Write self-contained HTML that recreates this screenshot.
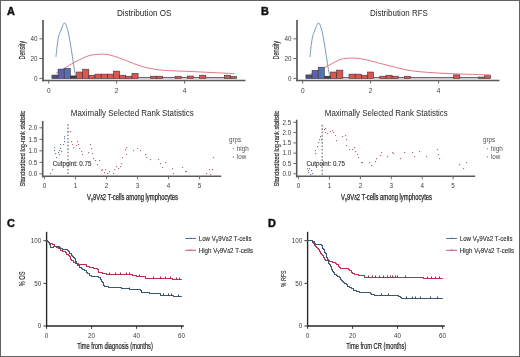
<!DOCTYPE html>
<html><head><meta charset="utf-8"><style>
html,body{margin:0;padding:0;background:#fff;}
#w{position:relative;width:520px;height:357px;overflow:hidden;background:#fff;}
#b{position:absolute;left:0;top:0;width:518px;height:355px;border:1px solid #626262;}
svg{position:absolute;left:0;top:0;will-change:transform;filter:blur(0.3px);}
text{font-family:"Liberation Sans", sans-serif;}
</style></head><body><div id="w"><svg width="520" height="357" viewBox="0 0 520 357">
<text x="7.00" y="14.90" font-size="10.9" fill="#111" text-anchor="start" font-weight="bold" stroke="#111" stroke-width="0.45">A</text>
<text x="261.00" y="15.00" font-size="10.9" fill="#111" text-anchor="start" font-weight="bold" stroke="#111" stroke-width="0.45">B</text>
<text x="7.00" y="226.50" font-size="10.9" fill="#111" text-anchor="start" font-weight="bold" stroke="#111" stroke-width="0.45">C</text>
<text x="268.00" y="226.50" font-size="10.9" fill="#111" text-anchor="start" font-weight="bold" stroke="#111" stroke-width="0.45">D</text>
<text x="116.90" y="15.90" font-size="9" fill="#262626" text-anchor="start" font-weight="normal" textLength="54.50" lengthAdjust="spacingAndGlyphs" >Distribution OS</text>
<path d="M56.00,56.50 C56.20,54.67 56.78,48.75 57.20,45.50 C57.62,42.25 58.03,39.17 58.50,37.00 C58.97,34.83 59.42,34.12 60.00,32.50 C60.58,30.88 61.40,28.78 62.00,27.30 C62.60,25.82 63.18,24.32 63.60,23.60 C64.02,22.88 64.18,22.98 64.50,23.00 C64.82,23.02 65.12,23.03 65.50,23.70 C65.88,24.37 66.33,25.53 66.80,27.00 C67.27,28.47 67.70,29.67 68.30,32.50 C68.90,35.33 69.72,40.00 70.40,44.00 C71.08,48.00 71.73,52.25 72.40,56.50 C73.07,60.75 73.77,65.98 74.40,69.50 C75.03,73.02 75.90,76.25 76.20,77.60" fill="none" stroke="#6a8cb6" stroke-width="0.9" stroke-linecap="round" />
<path d="M56.20,73.20 C56.83,72.80 58.63,71.62 60.00,70.80 C61.37,69.98 62.87,69.20 64.40,68.30 C65.93,67.40 67.60,66.37 69.20,65.40 C70.80,64.43 72.40,63.38 74.00,62.50 C75.60,61.62 77.18,60.90 78.80,60.10 C80.42,59.30 82.08,58.42 83.70,57.70 C85.32,56.98 86.90,56.28 88.50,55.80 C90.10,55.32 91.38,55.07 93.30,54.80 C95.22,54.53 98.22,54.30 100.00,54.20 C101.78,54.10 102.27,54.03 104.00,54.20 C105.73,54.37 108.05,54.65 110.40,55.20 C112.75,55.75 115.53,56.63 118.10,57.50 C120.67,58.37 123.23,59.40 125.80,60.40 C128.37,61.40 130.93,62.53 133.50,63.50 C136.07,64.47 138.65,65.42 141.20,66.20 C143.75,66.98 146.25,67.65 148.80,68.20 C151.35,68.75 153.93,69.15 156.50,69.50 C159.07,69.85 161.12,70.07 164.20,70.30 C167.28,70.53 169.87,70.67 175.00,70.90 C180.13,71.13 188.33,71.40 195.00,71.70 C201.67,72.00 208.50,72.38 215.00,72.70 C221.50,73.02 230.83,73.45 234.00,73.60" fill="none" stroke="#de6a78" stroke-width="0.9" stroke-linecap="round" />
<line x1="51.90" y1="77.80" x2="236.61" y2="77.80" stroke="#4a3040" stroke-width="1.1" />
<rect x="51.90" y="75.10" width="6.16" height="3.30" fill="#465682" stroke="#3b2a35" stroke-width="0.55"/>
<rect x="58.06" y="69.10" width="6.16" height="9.30" fill="#5d62a8" stroke="#3b2a35" stroke-width="0.55"/>
<rect x="64.21" y="68.40" width="6.16" height="10.00" fill="#4f72b8" stroke="#3b2a35" stroke-width="0.55"/>
<rect x="70.37" y="75.90" width="6.16" height="2.50" fill="#3a3a48" stroke="#3b2a35" stroke-width="0.55"/>
<rect x="76.53" y="72.00" width="6.16" height="6.40" fill="#d9574f" stroke="#3b2a35" stroke-width="0.55"/>
<rect x="82.69" y="69.20" width="6.16" height="9.20" fill="#d9574f" stroke="#3b2a35" stroke-width="0.55"/>
<rect x="88.84" y="75.20" width="6.16" height="3.20" fill="#d9574f" stroke="#3b2a35" stroke-width="0.55"/>
<rect x="95.00" y="74.10" width="6.16" height="4.30" fill="#d9574f" stroke="#3b2a35" stroke-width="0.55"/>
<rect x="101.16" y="74.10" width="6.16" height="4.30" fill="#d9574f" stroke="#3b2a35" stroke-width="0.55"/>
<rect x="107.31" y="74.10" width="6.16" height="4.30" fill="#d9574f" stroke="#3b2a35" stroke-width="0.55"/>
<rect x="113.47" y="71.10" width="6.16" height="7.30" fill="#d9574f" stroke="#3b2a35" stroke-width="0.55"/>
<rect x="119.63" y="75.20" width="6.16" height="3.20" fill="#d9574f" stroke="#3b2a35" stroke-width="0.55"/>
<rect x="125.78" y="76.20" width="6.16" height="2.20" fill="#d9574f" stroke="#3b2a35" stroke-width="0.55"/>
<rect x="131.94" y="73.30" width="6.16" height="5.10" fill="#d9574f" stroke="#3b2a35" stroke-width="0.55"/>
<rect x="150.41" y="76.20" width="6.16" height="2.20" fill="#d9574f" stroke="#3b2a35" stroke-width="0.55"/>
<rect x="156.57" y="76.20" width="6.16" height="2.20" fill="#d9574f" stroke="#3b2a35" stroke-width="0.55"/>
<rect x="175.04" y="76.20" width="6.16" height="2.20" fill="#d9574f" stroke="#3b2a35" stroke-width="0.55"/>
<rect x="187.35" y="76.00" width="6.16" height="2.40" fill="#d9574f" stroke="#3b2a35" stroke-width="0.55"/>
<rect x="199.67" y="75.20" width="6.16" height="3.20" fill="#d9574f" stroke="#3b2a35" stroke-width="0.55"/>
<rect x="224.30" y="75.20" width="6.16" height="3.20" fill="#d9574f" stroke="#3b2a35" stroke-width="0.55"/>
<rect x="230.45" y="76.40" width="6.16" height="2.00" fill="#d9574f" stroke="#3b2a35" stroke-width="0.55"/>
<line x1="43.00" y1="20.00" x2="43.00" y2="81.30" stroke="#5a5a5a" stroke-width="1.7" />
<line x1="42.20" y1="80.50" x2="245.50" y2="80.50" stroke="#5a5a5a" stroke-width="1.7" />
<line x1="39.40" y1="78.40" x2="43.00" y2="78.40" stroke="#5a5a5a" stroke-width="0.9" />
<text x="37.40" y="80.60" font-size="6.3" fill="#3c3c3c" text-anchor="end" font-weight="normal" >0</text>
<line x1="39.40" y1="58.50" x2="43.00" y2="58.50" stroke="#5a5a5a" stroke-width="0.9" />
<text x="37.40" y="60.70" font-size="6.3" fill="#3c3c3c" text-anchor="end" font-weight="normal" >20</text>
<line x1="39.40" y1="38.80" x2="43.00" y2="38.80" stroke="#5a5a5a" stroke-width="0.9" />
<text x="37.40" y="41.00" font-size="6.3" fill="#3c3c3c" text-anchor="end" font-weight="normal" >40</text>
<line x1="48.70" y1="80.50" x2="48.70" y2="83.60" stroke="#5a5a5a" stroke-width="0.9" />
<text x="48.70" y="92.60" font-size="6.5" fill="#3c3c3c" text-anchor="middle" font-weight="normal" >0</text>
<line x1="116.60" y1="80.50" x2="116.60" y2="83.60" stroke="#5a5a5a" stroke-width="0.9" />
<text x="116.60" y="92.60" font-size="6.5" fill="#3c3c3c" text-anchor="middle" font-weight="normal" >2</text>
<line x1="184.60" y1="80.50" x2="184.60" y2="83.60" stroke="#5a5a5a" stroke-width="0.9" />
<text x="184.60" y="92.60" font-size="6.5" fill="#3c3c3c" text-anchor="middle" font-weight="normal" >4</text>
<text x="25.00" y="50.30" font-size="8.3" fill="#2e2e2e" text-anchor="middle" font-weight="normal" textLength="18.40" lengthAdjust="spacingAndGlyphs" transform="rotate(-90 25.00 50.30)" stroke="#2e2e2e" stroke-width="0.15">Density</text>
<text x="369.90" y="15.90" font-size="9" fill="#262626" text-anchor="start" font-weight="normal" textLength="58.00" lengthAdjust="spacingAndGlyphs" >Distribution RFS</text>
<path d="M310.00,56.50 C310.20,54.67 310.78,48.75 311.20,45.50 C311.62,42.25 312.03,39.17 312.50,37.00 C312.97,34.83 313.42,34.12 314.00,32.50 C314.58,30.88 315.40,28.78 316.00,27.30 C316.60,25.82 317.18,24.32 317.60,23.60 C318.02,22.88 318.18,22.98 318.50,23.00 C318.82,23.02 319.12,23.03 319.50,23.70 C319.88,24.37 320.33,25.53 320.80,27.00 C321.27,28.47 321.70,29.67 322.30,32.50 C322.90,35.33 323.72,40.00 324.40,44.00 C325.08,48.00 325.73,52.25 326.40,56.50 C327.07,60.75 327.77,65.98 328.40,69.50 C329.03,73.02 329.90,76.25 330.20,77.60" fill="none" stroke="#6a8cb6" stroke-width="0.9" stroke-linecap="round" />
<path d="M310.50,73.90 C312.82,72.85 319.65,69.92 324.40,67.60 C329.15,65.28 335.57,61.50 339.00,60.00 C342.43,58.50 342.67,58.92 345.00,58.60 C347.33,58.28 349.67,57.95 353.00,58.10 C356.33,58.25 359.83,58.45 365.00,59.50 C370.17,60.55 376.63,62.58 384.00,64.40 C391.37,66.22 401.53,69.05 409.20,70.40 C416.87,71.75 423.37,71.97 430.00,72.50 C436.63,73.03 442.33,73.30 449.00,73.60 C455.67,73.90 463.07,74.08 470.00,74.30 C476.93,74.52 487.17,74.80 490.60,74.90" fill="none" stroke="#de6a78" stroke-width="0.9" stroke-linecap="round" />
<line x1="305.90" y1="77.80" x2="490.61" y2="77.80" stroke="#4a3040" stroke-width="1.1" />
<rect x="305.90" y="74.90" width="6.16" height="3.50" fill="#465682" stroke="#3b2a35" stroke-width="0.55"/>
<rect x="312.06" y="70.40" width="6.16" height="8.00" fill="#5d62a8" stroke="#3b2a35" stroke-width="0.55"/>
<rect x="318.21" y="67.20" width="6.16" height="11.20" fill="#4f72b8" stroke="#3b2a35" stroke-width="0.55"/>
<rect x="324.37" y="76.20" width="6.16" height="2.20" fill="#3a3a48" stroke="#3b2a35" stroke-width="0.55"/>
<rect x="330.53" y="72.00" width="6.16" height="6.40" fill="#d9574f" stroke="#3b2a35" stroke-width="0.55"/>
<rect x="336.69" y="70.10" width="6.16" height="8.30" fill="#d9574f" stroke="#3b2a35" stroke-width="0.55"/>
<rect x="349.00" y="74.10" width="6.16" height="4.30" fill="#d9574f" stroke="#3b2a35" stroke-width="0.55"/>
<rect x="355.16" y="74.10" width="6.16" height="4.30" fill="#d9574f" stroke="#3b2a35" stroke-width="0.55"/>
<rect x="361.31" y="75.20" width="6.16" height="3.20" fill="#d9574f" stroke="#3b2a35" stroke-width="0.55"/>
<rect x="367.47" y="72.00" width="6.16" height="6.40" fill="#d9574f" stroke="#3b2a35" stroke-width="0.55"/>
<rect x="379.78" y="76.20" width="6.16" height="2.20" fill="#d9574f" stroke="#3b2a35" stroke-width="0.55"/>
<rect x="385.94" y="75.20" width="6.16" height="3.20" fill="#d9574f" stroke="#3b2a35" stroke-width="0.55"/>
<rect x="392.10" y="76.20" width="6.16" height="2.20" fill="#d9574f" stroke="#3b2a35" stroke-width="0.55"/>
<rect x="404.41" y="76.20" width="6.16" height="2.20" fill="#d9574f" stroke="#3b2a35" stroke-width="0.55"/>
<rect x="453.67" y="74.90" width="6.16" height="3.50" fill="#d9574f" stroke="#3b2a35" stroke-width="0.55"/>
<rect x="478.30" y="77.00" width="6.16" height="1.40" fill="#d9574f" stroke="#3b2a35" stroke-width="0.55"/>
<rect x="484.45" y="75.80" width="6.16" height="2.60" fill="#d9574f" stroke="#3b2a35" stroke-width="0.55"/>
<line x1="297.00" y1="20.00" x2="297.00" y2="81.30" stroke="#5a5a5a" stroke-width="1.7" />
<line x1="296.20" y1="80.50" x2="499.50" y2="80.50" stroke="#5a5a5a" stroke-width="1.7" />
<line x1="293.40" y1="78.40" x2="297.00" y2="78.40" stroke="#5a5a5a" stroke-width="0.9" />
<text x="291.40" y="80.60" font-size="6.3" fill="#3c3c3c" text-anchor="end" font-weight="normal" >0</text>
<line x1="293.40" y1="58.50" x2="297.00" y2="58.50" stroke="#5a5a5a" stroke-width="0.9" />
<text x="291.40" y="60.70" font-size="6.3" fill="#3c3c3c" text-anchor="end" font-weight="normal" >20</text>
<line x1="293.40" y1="38.80" x2="297.00" y2="38.80" stroke="#5a5a5a" stroke-width="0.9" />
<text x="291.40" y="41.00" font-size="6.3" fill="#3c3c3c" text-anchor="end" font-weight="normal" >40</text>
<line x1="302.70" y1="80.50" x2="302.70" y2="83.60" stroke="#5a5a5a" stroke-width="0.9" />
<text x="302.70" y="92.60" font-size="6.5" fill="#3c3c3c" text-anchor="middle" font-weight="normal" >0</text>
<line x1="370.60" y1="80.50" x2="370.60" y2="83.60" stroke="#5a5a5a" stroke-width="0.9" />
<text x="370.60" y="92.60" font-size="6.5" fill="#3c3c3c" text-anchor="middle" font-weight="normal" >2</text>
<line x1="438.60" y1="80.50" x2="438.60" y2="83.60" stroke="#5a5a5a" stroke-width="0.9" />
<text x="438.60" y="92.60" font-size="6.5" fill="#3c3c3c" text-anchor="middle" font-weight="normal" >4</text>
<text x="279.00" y="50.30" font-size="8.3" fill="#2e2e2e" text-anchor="middle" font-weight="normal" textLength="18.40" lengthAdjust="spacingAndGlyphs" transform="rotate(-90 279.00 50.30)" stroke="#2e2e2e" stroke-width="0.15">Density</text>
<text x="70.80" y="116.20" font-size="8.2" fill="#262626" text-anchor="start" font-weight="normal" textLength="123.00" lengthAdjust="spacingAndGlyphs" >Maximally Selected Rank Statistics</text>
<line x1="42.70" y1="121.00" x2="42.70" y2="177.50" stroke="#5a5a5a" stroke-width="1.6" />
<line x1="42.00" y1="176.20" x2="221.20" y2="176.20" stroke="#5a5a5a" stroke-width="1.6" />
<line x1="39.40" y1="173.80" x2="42.70" y2="173.80" stroke="#5a5a5a" stroke-width="0.9" />
<text x="37.30" y="176.00" font-size="6.3" fill="#3c3c3c" text-anchor="end" font-weight="normal" >0.0</text>
<line x1="39.40" y1="162.30" x2="42.70" y2="162.30" stroke="#5a5a5a" stroke-width="0.9" />
<text x="37.30" y="164.50" font-size="6.3" fill="#3c3c3c" text-anchor="end" font-weight="normal" >0.5</text>
<line x1="39.40" y1="150.80" x2="42.70" y2="150.80" stroke="#5a5a5a" stroke-width="0.9" />
<text x="37.30" y="153.00" font-size="6.3" fill="#3c3c3c" text-anchor="end" font-weight="normal" >1.0</text>
<line x1="39.40" y1="139.30" x2="42.70" y2="139.30" stroke="#5a5a5a" stroke-width="0.9" />
<text x="37.30" y="141.50" font-size="6.3" fill="#3c3c3c" text-anchor="end" font-weight="normal" >1.5</text>
<line x1="39.40" y1="127.80" x2="42.70" y2="127.80" stroke="#5a5a5a" stroke-width="0.9" />
<text x="37.30" y="130.00" font-size="6.3" fill="#3c3c3c" text-anchor="end" font-weight="normal" >2.0</text>
<line x1="44.60" y1="176.20" x2="44.60" y2="179.30" stroke="#5a5a5a" stroke-width="0.9" />
<text x="44.60" y="188.00" font-size="6.3" fill="#3c3c3c" text-anchor="middle" font-weight="normal" >0</text>
<line x1="75.60" y1="176.20" x2="75.60" y2="179.30" stroke="#5a5a5a" stroke-width="0.9" />
<text x="75.60" y="188.00" font-size="6.3" fill="#3c3c3c" text-anchor="middle" font-weight="normal" >1</text>
<line x1="106.60" y1="176.20" x2="106.60" y2="179.30" stroke="#5a5a5a" stroke-width="0.9" />
<text x="106.60" y="188.00" font-size="6.3" fill="#3c3c3c" text-anchor="middle" font-weight="normal" >2</text>
<line x1="137.60" y1="176.20" x2="137.60" y2="179.30" stroke="#5a5a5a" stroke-width="0.9" />
<text x="137.60" y="188.00" font-size="6.3" fill="#3c3c3c" text-anchor="middle" font-weight="normal" >3</text>
<line x1="168.60" y1="176.20" x2="168.60" y2="179.30" stroke="#5a5a5a" stroke-width="0.9" />
<text x="168.60" y="188.00" font-size="6.3" fill="#3c3c3c" text-anchor="middle" font-weight="normal" >4</text>
<line x1="199.60" y1="176.20" x2="199.60" y2="179.30" stroke="#5a5a5a" stroke-width="0.9" />
<text x="199.60" y="188.00" font-size="6.3" fill="#3c3c3c" text-anchor="middle" font-weight="normal" >5</text>
<text x="25.50" y="148.60" font-size="8.0" fill="#2e2e2e" text-anchor="middle" font-weight="normal" textLength="76.00" lengthAdjust="spacingAndGlyphs" transform="rotate(-90 25.50 148.60)" stroke="#2e2e2e" stroke-width="0.2">Standardized log-rank statistic</text>
<text x="87.00" y="199.60" font-size="8.2" fill="#262626" text-anchor="start" font-weight="normal" textLength="91.00" lengthAdjust="spacingAndGlyphs" stroke="#262626" stroke-width="0.25">V<tspan font-size="6" dy="1">γ</tspan><tspan dy="-1">9V</tspan><tspan font-size="6.6">δ</tspan>2 T-cells among lymphocytes</text>
<line x1="68.00" y1="123.30" x2="68.00" y2="175.50" stroke="#7a7a7a" stroke-width="1.3" stroke-dasharray="1.6 1.85" stroke-dashoffset="2.6"/>
<rect x="50.00" y="173.00" width="1.15" height="1.15" fill="#72829e" stroke="none" stroke-width="0.6"/>
<rect x="52.00" y="169.00" width="1.15" height="1.15" fill="#72829e" stroke="none" stroke-width="0.6"/>
<rect x="56.00" y="157.00" width="1.15" height="1.15" fill="#72829e" stroke="none" stroke-width="0.6"/>
<rect x="55.00" y="153.00" width="1.15" height="1.15" fill="#72829e" stroke="none" stroke-width="0.6"/>
<rect x="54.00" y="150.00" width="1.15" height="1.15" fill="#72829e" stroke="none" stroke-width="0.6"/>
<rect x="54.00" y="147.00" width="1.15" height="1.15" fill="#72829e" stroke="none" stroke-width="0.6"/>
<rect x="60.00" y="144.00" width="1.15" height="1.15" fill="#72829e" stroke="none" stroke-width="0.6"/>
<rect x="63.00" y="144.00" width="1.15" height="1.15" fill="#72829e" stroke="none" stroke-width="0.6"/>
<rect x="64.00" y="141.00" width="1.15" height="1.15" fill="#72829e" stroke="none" stroke-width="0.6"/>
<rect x="64.00" y="138.00" width="1.15" height="1.15" fill="#72829e" stroke="none" stroke-width="0.6"/>
<rect x="64.00" y="136.00" width="1.15" height="1.15" fill="#72829e" stroke="none" stroke-width="0.6"/>
<rect x="60.00" y="148.00" width="1.15" height="1.15" fill="#72829e" stroke="none" stroke-width="0.6"/>
<rect x="59.00" y="150.00" width="1.15" height="1.15" fill="#72829e" stroke="none" stroke-width="0.6"/>
<rect x="58.00" y="152.00" width="1.15" height="1.15" fill="#72829e" stroke="none" stroke-width="0.6"/>
<rect x="59.00" y="154.00" width="1.15" height="1.15" fill="#72829e" stroke="none" stroke-width="0.6"/>
<rect x="61.00" y="151.00" width="1.15" height="1.15" fill="#72829e" stroke="none" stroke-width="0.6"/>
<rect x="68.00" y="131.00" width="1.15" height="1.15" fill="#b06a7e" stroke="none" stroke-width="0.6"/>
<rect x="70.00" y="131.00" width="1.15" height="1.15" fill="#b06a7e" stroke="none" stroke-width="0.6"/>
<rect x="71.00" y="141.00" width="1.15" height="1.15" fill="#b06a7e" stroke="none" stroke-width="0.6"/>
<rect x="72.00" y="144.00" width="1.15" height="1.15" fill="#b06a7e" stroke="none" stroke-width="0.6"/>
<rect x="73.00" y="147.00" width="1.15" height="1.15" fill="#b06a7e" stroke="none" stroke-width="0.6"/>
<rect x="76.00" y="145.00" width="1.15" height="1.15" fill="#b06a7e" stroke="none" stroke-width="0.6"/>
<rect x="77.00" y="141.00" width="1.15" height="1.15" fill="#b06a7e" stroke="none" stroke-width="0.6"/>
<rect x="78.00" y="144.00" width="1.15" height="1.15" fill="#b06a7e" stroke="none" stroke-width="0.6"/>
<rect x="79.00" y="148.00" width="1.15" height="1.15" fill="#b06a7e" stroke="none" stroke-width="0.6"/>
<rect x="81.00" y="151.00" width="1.15" height="1.15" fill="#b06a7e" stroke="none" stroke-width="0.6"/>
<rect x="82.00" y="154.00" width="1.15" height="1.15" fill="#b06a7e" stroke="none" stroke-width="0.6"/>
<rect x="90.00" y="144.00" width="1.15" height="1.15" fill="#b06a7e" stroke="none" stroke-width="0.6"/>
<rect x="91.00" y="148.00" width="1.15" height="1.15" fill="#b06a7e" stroke="none" stroke-width="0.6"/>
<rect x="88.00" y="152.00" width="1.15" height="1.15" fill="#b06a7e" stroke="none" stroke-width="0.6"/>
<rect x="92.00" y="153.00" width="1.15" height="1.15" fill="#b06a7e" stroke="none" stroke-width="0.6"/>
<rect x="93.00" y="158.00" width="1.15" height="1.15" fill="#b06a7e" stroke="none" stroke-width="0.6"/>
<rect x="95.00" y="160.00" width="1.15" height="1.15" fill="#b06a7e" stroke="none" stroke-width="0.6"/>
<rect x="99.00" y="160.00" width="1.15" height="1.15" fill="#b06a7e" stroke="none" stroke-width="0.6"/>
<rect x="97.00" y="164.00" width="1.15" height="1.15" fill="#b06a7e" stroke="none" stroke-width="0.6"/>
<rect x="101.00" y="170.00" width="1.15" height="1.15" fill="#b06a7e" stroke="none" stroke-width="0.6"/>
<rect x="102.00" y="169.00" width="1.15" height="1.15" fill="#b06a7e" stroke="none" stroke-width="0.6"/>
<rect x="104.00" y="172.00" width="1.15" height="1.15" fill="#b06a7e" stroke="none" stroke-width="0.6"/>
<rect x="105.00" y="169.00" width="1.15" height="1.15" fill="#b06a7e" stroke="none" stroke-width="0.6"/>
<rect x="107.00" y="173.00" width="1.15" height="1.15" fill="#b06a7e" stroke="none" stroke-width="0.6"/>
<rect x="109.00" y="171.00" width="1.15" height="1.15" fill="#b06a7e" stroke="none" stroke-width="0.6"/>
<rect x="113.00" y="173.00" width="1.15" height="1.15" fill="#b06a7e" stroke="none" stroke-width="0.6"/>
<rect x="114.00" y="169.00" width="1.15" height="1.15" fill="#b06a7e" stroke="none" stroke-width="0.6"/>
<rect x="116.00" y="166.00" width="1.15" height="1.15" fill="#b06a7e" stroke="none" stroke-width="0.6"/>
<rect x="118.00" y="168.00" width="1.15" height="1.15" fill="#b06a7e" stroke="none" stroke-width="0.6"/>
<rect x="120.00" y="166.00" width="1.15" height="1.15" fill="#b06a7e" stroke="none" stroke-width="0.6"/>
<rect x="121.00" y="163.00" width="1.15" height="1.15" fill="#b06a7e" stroke="none" stroke-width="0.6"/>
<rect x="122.00" y="157.00" width="1.15" height="1.15" fill="#b06a7e" stroke="none" stroke-width="0.6"/>
<rect x="126.00" y="154.00" width="1.15" height="1.15" fill="#b06a7e" stroke="none" stroke-width="0.6"/>
<rect x="125.00" y="149.00" width="1.15" height="1.15" fill="#b06a7e" stroke="none" stroke-width="0.6"/>
<rect x="126.00" y="147.00" width="1.15" height="1.15" fill="#b06a7e" stroke="none" stroke-width="0.6"/>
<rect x="133.00" y="150.00" width="1.15" height="1.15" fill="#b06a7e" stroke="none" stroke-width="0.6"/>
<rect x="137.00" y="148.00" width="1.15" height="1.15" fill="#b06a7e" stroke="none" stroke-width="0.6"/>
<rect x="140.00" y="150.00" width="1.15" height="1.15" fill="#b06a7e" stroke="none" stroke-width="0.6"/>
<rect x="145.00" y="154.00" width="1.15" height="1.15" fill="#b06a7e" stroke="none" stroke-width="0.6"/>
<rect x="146.00" y="157.00" width="1.15" height="1.15" fill="#b06a7e" stroke="none" stroke-width="0.6"/>
<rect x="150.00" y="159.00" width="1.15" height="1.15" fill="#b06a7e" stroke="none" stroke-width="0.6"/>
<rect x="158.00" y="159.00" width="1.15" height="1.15" fill="#b06a7e" stroke="none" stroke-width="0.6"/>
<rect x="160.00" y="163.00" width="1.15" height="1.15" fill="#b06a7e" stroke="none" stroke-width="0.6"/>
<rect x="162.00" y="167.00" width="1.15" height="1.15" fill="#b06a7e" stroke="none" stroke-width="0.6"/>
<rect x="165.00" y="162.00" width="1.15" height="1.15" fill="#b06a7e" stroke="none" stroke-width="0.6"/>
<rect x="172.00" y="168.00" width="1.15" height="1.15" fill="#b06a7e" stroke="none" stroke-width="0.6"/>
<rect x="173.00" y="173.00" width="1.15" height="1.15" fill="#b06a7e" stroke="none" stroke-width="0.6"/>
<rect x="182.00" y="167.00" width="1.15" height="1.15" fill="#b06a7e" stroke="none" stroke-width="0.6"/>
<rect x="185.00" y="171.00" width="1.15" height="1.15" fill="#b06a7e" stroke="none" stroke-width="0.6"/>
<rect x="186.00" y="171.00" width="1.15" height="1.15" fill="#b06a7e" stroke="none" stroke-width="0.6"/>
<rect x="206.00" y="173.00" width="1.15" height="1.15" fill="#b06a7e" stroke="none" stroke-width="0.6"/>
<rect x="209.00" y="169.00" width="1.15" height="1.15" fill="#b06a7e" stroke="none" stroke-width="0.6"/>
<rect x="212.00" y="169.00" width="1.15" height="1.15" fill="#b06a7e" stroke="none" stroke-width="0.6"/>
<rect x="210.00" y="174.00" width="1.15" height="1.15" fill="#b06a7e" stroke="none" stroke-width="0.6"/>
<rect x="213.00" y="157.00" width="1.15" height="1.15" fill="#b06a7e" stroke="none" stroke-width="0.6"/>
<text x="52.80" y="166.00" font-size="6.8" fill="#2a2a2a" text-anchor="start" font-weight="normal" textLength="38.60" lengthAdjust="spacingAndGlyphs" stroke="#2a2a2a" stroke-width="0.1">Cutpoint: 0.75</text>
<text x="229.00" y="141.80" font-size="6.3" fill="#505050" text-anchor="start" font-weight="normal" >grps</text>
<rect x="232.80" y="148.20" width="1.10" height="1.10" fill="#5a7ab2" stroke="none" stroke-width="0.6"/>
<rect x="232.80" y="156.30" width="1.10" height="1.10" fill="#d24a62" stroke="none" stroke-width="0.6"/>
<text x="236.80" y="151.00" font-size="6.3" fill="#505050" text-anchor="start" font-weight="normal" >high</text>
<text x="236.80" y="159.10" font-size="6.3" fill="#505050" text-anchor="start" font-weight="normal" >low</text>
<text x="324.80" y="116.20" font-size="8.2" fill="#262626" text-anchor="start" font-weight="normal" textLength="123.00" lengthAdjust="spacingAndGlyphs" >Maximally Selected Rank Statistics</text>
<line x1="296.70" y1="119.70" x2="296.70" y2="177.50" stroke="#5a5a5a" stroke-width="1.6" />
<line x1="296.00" y1="176.20" x2="475.20" y2="176.20" stroke="#5a5a5a" stroke-width="1.6" />
<line x1="293.40" y1="173.80" x2="296.70" y2="173.80" stroke="#5a5a5a" stroke-width="0.9" />
<text x="291.30" y="176.00" font-size="6.3" fill="#3c3c3c" text-anchor="end" font-weight="normal" >0.0</text>
<line x1="293.40" y1="163.50" x2="296.70" y2="163.50" stroke="#5a5a5a" stroke-width="0.9" />
<text x="291.30" y="165.70" font-size="6.3" fill="#3c3c3c" text-anchor="end" font-weight="normal" >0.5</text>
<line x1="293.40" y1="153.20" x2="296.70" y2="153.20" stroke="#5a5a5a" stroke-width="0.9" />
<text x="291.30" y="155.40" font-size="6.3" fill="#3c3c3c" text-anchor="end" font-weight="normal" >1.0</text>
<line x1="293.40" y1="142.90" x2="296.70" y2="142.90" stroke="#5a5a5a" stroke-width="0.9" />
<text x="291.30" y="145.10" font-size="6.3" fill="#3c3c3c" text-anchor="end" font-weight="normal" >1.5</text>
<line x1="293.40" y1="132.60" x2="296.70" y2="132.60" stroke="#5a5a5a" stroke-width="0.9" />
<text x="291.30" y="134.80" font-size="6.3" fill="#3c3c3c" text-anchor="end" font-weight="normal" >2.0</text>
<line x1="293.40" y1="122.30" x2="296.70" y2="122.30" stroke="#5a5a5a" stroke-width="0.9" />
<text x="291.30" y="124.50" font-size="6.3" fill="#3c3c3c" text-anchor="end" font-weight="normal" >2.5</text>
<line x1="298.60" y1="176.20" x2="298.60" y2="179.30" stroke="#5a5a5a" stroke-width="0.9" />
<text x="298.60" y="188.00" font-size="6.3" fill="#3c3c3c" text-anchor="middle" font-weight="normal" >0</text>
<line x1="329.50" y1="176.20" x2="329.50" y2="179.30" stroke="#5a5a5a" stroke-width="0.9" />
<text x="329.50" y="188.00" font-size="6.3" fill="#3c3c3c" text-anchor="middle" font-weight="normal" >1</text>
<line x1="360.40" y1="176.20" x2="360.40" y2="179.30" stroke="#5a5a5a" stroke-width="0.9" />
<text x="360.40" y="188.00" font-size="6.3" fill="#3c3c3c" text-anchor="middle" font-weight="normal" >2</text>
<line x1="391.30" y1="176.20" x2="391.30" y2="179.30" stroke="#5a5a5a" stroke-width="0.9" />
<text x="391.30" y="188.00" font-size="6.3" fill="#3c3c3c" text-anchor="middle" font-weight="normal" >3</text>
<line x1="422.20" y1="176.20" x2="422.20" y2="179.30" stroke="#5a5a5a" stroke-width="0.9" />
<text x="422.20" y="188.00" font-size="6.3" fill="#3c3c3c" text-anchor="middle" font-weight="normal" >4</text>
<line x1="453.10" y1="176.20" x2="453.10" y2="179.30" stroke="#5a5a5a" stroke-width="0.9" />
<text x="453.10" y="188.00" font-size="6.3" fill="#3c3c3c" text-anchor="middle" font-weight="normal" >5</text>
<text x="279.50" y="148.60" font-size="8.0" fill="#2e2e2e" text-anchor="middle" font-weight="normal" textLength="76.00" lengthAdjust="spacingAndGlyphs" transform="rotate(-90 279.50 148.60)" stroke="#2e2e2e" stroke-width="0.2">Standardized log-rank statistic</text>
<text x="341.00" y="199.60" font-size="8.2" fill="#262626" text-anchor="start" font-weight="normal" textLength="91.00" lengthAdjust="spacingAndGlyphs" stroke="#262626" stroke-width="0.25">V<tspan font-size="6" dy="1">γ</tspan><tspan dy="-1">9V</tspan><tspan font-size="6.6">δ</tspan>2 T-cells among lymphocytes</text>
<line x1="322.20" y1="124.00" x2="322.20" y2="175.50" stroke="#7a7a7a" stroke-width="1.3" stroke-dasharray="1.6 1.85" stroke-dashoffset="2.6"/>
<rect x="307.00" y="168.00" width="1.15" height="1.15" fill="#72829e" stroke="none" stroke-width="0.6"/>
<rect x="309.00" y="168.00" width="1.15" height="1.15" fill="#72829e" stroke="none" stroke-width="0.6"/>
<rect x="311.00" y="170.00" width="1.15" height="1.15" fill="#72829e" stroke="none" stroke-width="0.6"/>
<rect x="308.00" y="172.00" width="1.15" height="1.15" fill="#72829e" stroke="none" stroke-width="0.6"/>
<rect x="312.00" y="173.00" width="1.15" height="1.15" fill="#72829e" stroke="none" stroke-width="0.6"/>
<rect x="310.00" y="174.00" width="1.15" height="1.15" fill="#72829e" stroke="none" stroke-width="0.6"/>
<rect x="308.00" y="170.00" width="1.15" height="1.15" fill="#72829e" stroke="none" stroke-width="0.6"/>
<rect x="315.00" y="153.00" width="1.15" height="1.15" fill="#72829e" stroke="none" stroke-width="0.6"/>
<rect x="315.00" y="150.00" width="1.15" height="1.15" fill="#72829e" stroke="none" stroke-width="0.6"/>
<rect x="317.00" y="146.00" width="1.15" height="1.15" fill="#72829e" stroke="none" stroke-width="0.6"/>
<rect x="318.00" y="142.00" width="1.15" height="1.15" fill="#72829e" stroke="none" stroke-width="0.6"/>
<rect x="319.00" y="139.00" width="1.15" height="1.15" fill="#72829e" stroke="none" stroke-width="0.6"/>
<rect x="320.00" y="136.00" width="1.15" height="1.15" fill="#72829e" stroke="none" stroke-width="0.6"/>
<rect x="321.00" y="139.00" width="1.15" height="1.15" fill="#72829e" stroke="none" stroke-width="0.6"/>
<rect x="324.00" y="129.00" width="1.15" height="1.15" fill="#b06a7e" stroke="none" stroke-width="0.6"/>
<rect x="325.00" y="128.00" width="1.15" height="1.15" fill="#b06a7e" stroke="none" stroke-width="0.6"/>
<rect x="325.00" y="132.00" width="1.15" height="1.15" fill="#b06a7e" stroke="none" stroke-width="0.6"/>
<rect x="327.00" y="133.00" width="1.15" height="1.15" fill="#b06a7e" stroke="none" stroke-width="0.6"/>
<rect x="330.00" y="131.00" width="1.15" height="1.15" fill="#b06a7e" stroke="none" stroke-width="0.6"/>
<rect x="332.00" y="130.00" width="1.15" height="1.15" fill="#b06a7e" stroke="none" stroke-width="0.6"/>
<rect x="333.00" y="132.00" width="1.15" height="1.15" fill="#b06a7e" stroke="none" stroke-width="0.6"/>
<rect x="335.00" y="135.00" width="1.15" height="1.15" fill="#b06a7e" stroke="none" stroke-width="0.6"/>
<rect x="336.00" y="140.00" width="1.15" height="1.15" fill="#b06a7e" stroke="none" stroke-width="0.6"/>
<rect x="342.00" y="136.00" width="1.15" height="1.15" fill="#b06a7e" stroke="none" stroke-width="0.6"/>
<rect x="345.00" y="135.00" width="1.15" height="1.15" fill="#b06a7e" stroke="none" stroke-width="0.6"/>
<rect x="346.00" y="139.00" width="1.15" height="1.15" fill="#b06a7e" stroke="none" stroke-width="0.6"/>
<rect x="346.00" y="145.00" width="1.15" height="1.15" fill="#b06a7e" stroke="none" stroke-width="0.6"/>
<rect x="349.00" y="149.00" width="1.15" height="1.15" fill="#b06a7e" stroke="none" stroke-width="0.6"/>
<rect x="352.00" y="149.00" width="1.15" height="1.15" fill="#b06a7e" stroke="none" stroke-width="0.6"/>
<rect x="354.00" y="147.00" width="1.15" height="1.15" fill="#b06a7e" stroke="none" stroke-width="0.6"/>
<rect x="355.00" y="151.00" width="1.15" height="1.15" fill="#b06a7e" stroke="none" stroke-width="0.6"/>
<rect x="357.00" y="154.00" width="1.15" height="1.15" fill="#b06a7e" stroke="none" stroke-width="0.6"/>
<rect x="358.00" y="157.00" width="1.15" height="1.15" fill="#b06a7e" stroke="none" stroke-width="0.6"/>
<rect x="361.00" y="162.00" width="1.15" height="1.15" fill="#b06a7e" stroke="none" stroke-width="0.6"/>
<rect x="362.00" y="162.00" width="1.15" height="1.15" fill="#b06a7e" stroke="none" stroke-width="0.6"/>
<rect x="369.00" y="162.00" width="1.15" height="1.15" fill="#b06a7e" stroke="none" stroke-width="0.6"/>
<rect x="371.00" y="165.00" width="1.15" height="1.15" fill="#b06a7e" stroke="none" stroke-width="0.6"/>
<rect x="375.00" y="161.00" width="1.15" height="1.15" fill="#b06a7e" stroke="none" stroke-width="0.6"/>
<rect x="376.00" y="158.00" width="1.15" height="1.15" fill="#b06a7e" stroke="none" stroke-width="0.6"/>
<rect x="380.00" y="155.00" width="1.15" height="1.15" fill="#b06a7e" stroke="none" stroke-width="0.6"/>
<rect x="381.00" y="152.00" width="1.15" height="1.15" fill="#b06a7e" stroke="none" stroke-width="0.6"/>
<rect x="387.00" y="156.00" width="1.15" height="1.15" fill="#b06a7e" stroke="none" stroke-width="0.6"/>
<rect x="392.00" y="152.00" width="1.15" height="1.15" fill="#b06a7e" stroke="none" stroke-width="0.6"/>
<rect x="393.00" y="153.00" width="1.15" height="1.15" fill="#b06a7e" stroke="none" stroke-width="0.6"/>
<rect x="400.00" y="158.00" width="1.15" height="1.15" fill="#b06a7e" stroke="none" stroke-width="0.6"/>
<rect x="404.00" y="152.00" width="1.15" height="1.15" fill="#b06a7e" stroke="none" stroke-width="0.6"/>
<rect x="412.00" y="152.00" width="1.15" height="1.15" fill="#b06a7e" stroke="none" stroke-width="0.6"/>
<rect x="414.00" y="156.00" width="1.15" height="1.15" fill="#b06a7e" stroke="none" stroke-width="0.6"/>
<rect x="419.00" y="151.00" width="1.15" height="1.15" fill="#b06a7e" stroke="none" stroke-width="0.6"/>
<rect x="426.00" y="156.00" width="1.15" height="1.15" fill="#b06a7e" stroke="none" stroke-width="0.6"/>
<rect x="437.00" y="149.00" width="1.15" height="1.15" fill="#b06a7e" stroke="none" stroke-width="0.6"/>
<rect x="438.00" y="154.00" width="1.15" height="1.15" fill="#b06a7e" stroke="none" stroke-width="0.6"/>
<rect x="439.00" y="158.00" width="1.15" height="1.15" fill="#b06a7e" stroke="none" stroke-width="0.6"/>
<rect x="459.00" y="164.00" width="1.15" height="1.15" fill="#b06a7e" stroke="none" stroke-width="0.6"/>
<rect x="463.00" y="168.00" width="1.15" height="1.15" fill="#b06a7e" stroke="none" stroke-width="0.6"/>
<rect x="466.00" y="162.00" width="1.15" height="1.15" fill="#b06a7e" stroke="none" stroke-width="0.6"/>
<text x="306.40" y="166.00" font-size="6.8" fill="#2a2a2a" text-anchor="start" font-weight="normal" textLength="38.60" lengthAdjust="spacingAndGlyphs" stroke="#2a2a2a" stroke-width="0.1">Cutpoint: 0.75</text>
<text x="483.00" y="141.80" font-size="6.3" fill="#505050" text-anchor="start" font-weight="normal" >grps</text>
<rect x="486.80" y="148.20" width="1.10" height="1.10" fill="#5a7ab2" stroke="none" stroke-width="0.6"/>
<rect x="486.80" y="156.30" width="1.10" height="1.10" fill="#d24a62" stroke="none" stroke-width="0.6"/>
<text x="490.80" y="151.00" font-size="6.3" fill="#505050" text-anchor="start" font-weight="normal" >high</text>
<text x="490.80" y="159.10" font-size="6.3" fill="#505050" text-anchor="start" font-weight="normal" >low</text>
<line x1="46.60" y1="231.80" x2="46.60" y2="326.70" stroke="#262626" stroke-width="1.35" />
<line x1="46.00" y1="326.00" x2="183.80" y2="326.00" stroke="#262626" stroke-width="1.35" />
<line x1="43.40" y1="240.70" x2="46.60" y2="240.70" stroke="#262626" stroke-width="0.9" />
<text x="41.20" y="242.90" font-size="6.3" fill="#3c3c3c" text-anchor="end" font-weight="normal" >100</text>
<line x1="43.40" y1="283.40" x2="46.60" y2="283.40" stroke="#262626" stroke-width="0.9" />
<text x="41.20" y="285.60" font-size="6.3" fill="#3c3c3c" text-anchor="end" font-weight="normal" >50</text>
<line x1="43.40" y1="326.00" x2="46.60" y2="326.00" stroke="#262626" stroke-width="0.9" />
<text x="41.20" y="328.20" font-size="6.3" fill="#3c3c3c" text-anchor="end" font-weight="normal" >0</text>
<line x1="46.60" y1="326.00" x2="46.60" y2="328.90" stroke="#262626" stroke-width="0.9" />
<text x="46.60" y="337.60" font-size="6.3" fill="#3c3c3c" text-anchor="middle" font-weight="normal" >0</text>
<line x1="91.60" y1="326.00" x2="91.60" y2="328.90" stroke="#262626" stroke-width="0.9" />
<text x="91.60" y="337.60" font-size="6.3" fill="#3c3c3c" text-anchor="middle" font-weight="normal" >20</text>
<line x1="136.60" y1="326.00" x2="136.60" y2="328.90" stroke="#262626" stroke-width="0.9" />
<text x="136.60" y="337.60" font-size="6.3" fill="#3c3c3c" text-anchor="middle" font-weight="normal" >40</text>
<line x1="181.60" y1="326.00" x2="181.60" y2="328.90" stroke="#262626" stroke-width="0.9" />
<text x="181.60" y="337.60" font-size="6.3" fill="#3c3c3c" text-anchor="middle" font-weight="normal" >60</text>
<text x="77.20" y="349.20" font-size="8.7" fill="#222" text-anchor="start" font-weight="normal" textLength="75.70" lengthAdjust="spacingAndGlyphs" stroke="#222" stroke-width="0.22">Time from diagnosis (months)</text>
<text x="25.20" y="278.90" font-size="8.2" fill="#2e2e2e" text-anchor="middle" font-weight="normal" textLength="14.60" lengthAdjust="spacingAndGlyphs" transform="rotate(-90 25.20 278.90)" stroke="#2e2e2e" stroke-width="0.15">% OS</text>
<polyline points="46.50,240.50 47.50,240.50 47.50,241.50 48.50,241.50 48.50,242.50 49.50,242.50 49.50,243.50 52.50,243.50 52.50,244.50 54.50,244.50 54.50,246.50 56.50,246.50 56.50,247.50 58.50,247.50 58.50,248.50 60.50,248.50 60.50,250.50 62.50,250.50 62.50,251.50 65.50,251.50 65.50,252.50 66.50,252.50 66.50,254.50 68.50,254.50 68.50,255.50 69.50,255.50 69.50,256.50 70.50,256.50 70.50,258.50 70.50,259.50 71.50,259.50 71.50,260.50 73.50,260.50 73.50,262.50 75.50,262.50 75.50,263.50 78.50,263.50 78.50,264.50 86.50,264.50 86.50,266.50 89.50,266.50 89.50,267.50 93.50,267.50 93.50,268.50 97.50,268.50 97.50,269.50 98.50,269.50 98.50,270.50 98.50,272.50 102.50,272.50 102.50,273.50 106.50,273.50 106.50,274.50 129.50,274.50 132.50,274.50 132.50,275.50 136.50,275.50 136.50,276.50 145.50,276.50 145.50,278.50 170.50,278.50 172.50,278.50 172.50,279.50 181.50,279.50" fill="none" stroke="#bf2d52" stroke-width="1.1" stroke-linejoin="round" stroke-linecap="round" />
<polyline points="46.50,240.50 47.50,240.50 47.50,241.50 48.50,241.50 48.50,242.50 49.50,242.50 49.50,243.50 49.50,244.50 50.50,244.50 50.50,246.50 50.50,247.50 53.50,247.50 53.50,246.50 59.50,246.50 59.50,247.50 60.50,247.50 60.50,248.50 62.50,248.50 62.50,249.50 67.50,249.50 67.50,250.50 68.50,250.50 68.50,251.50 69.50,251.50 69.50,253.50 71.50,253.50 71.50,254.50 71.50,255.50 72.50,255.50 72.50,256.50 73.50,256.50 73.50,257.50 74.50,257.50 74.50,258.50 75.50,258.50 75.50,259.50 75.50,261.50 76.50,261.50 76.50,262.50 76.50,263.50 77.50,263.50 77.50,264.50 77.50,265.50 79.50,265.50 79.50,267.50 81.50,267.50 81.50,268.50 82.50,268.50 82.50,269.50 84.50,269.50 84.50,270.50 86.50,270.50 86.50,272.50 87.50,272.50 87.50,273.50 89.50,273.50 89.50,275.50 91.50,275.50 91.50,276.50 98.50,276.50 98.50,277.50 100.50,277.50 100.50,278.50 100.50,279.50 101.50,279.50 101.50,280.50 101.50,281.50 102.50,281.50 102.50,282.50 103.50,282.50 103.50,283.50 103.50,285.50 104.50,285.50 104.50,286.50 108.50,286.50 108.50,287.50 120.50,287.50 121.50,287.50 121.50,288.50 129.50,288.50 129.50,289.50 139.50,289.50 140.50,289.50 140.50,290.50 141.50,290.50 141.50,292.50 149.50,292.50 149.50,293.50 160.50,293.50 160.50,295.50 172.50,295.50 173.50,295.50 173.50,296.50 181.50,296.50" fill="none" stroke="#3d5673" stroke-width="1.1" stroke-linejoin="round" stroke-linecap="round" />
<line x1="129.50" y1="287.50" x2="129.50" y2="289.50" stroke="#34465e" stroke-width="1" />
<line x1="141.50" y1="290.50" x2="141.50" y2="292.50" stroke="#34465e" stroke-width="1" />
<line x1="163.50" y1="293.50" x2="163.50" y2="295.50" stroke="#34465e" stroke-width="1" />
<line x1="168.50" y1="293.50" x2="168.50" y2="295.50" stroke="#34465e" stroke-width="1" />
<line x1="171.50" y1="293.50" x2="171.50" y2="295.50" stroke="#34465e" stroke-width="1" />
<line x1="178.50" y1="294.50" x2="178.50" y2="296.50" stroke="#34465e" stroke-width="1" />
<line x1="109.50" y1="272.50" x2="109.50" y2="274.50" stroke="#9a2444" stroke-width="1" />
<line x1="115.50" y1="272.50" x2="115.50" y2="274.50" stroke="#9a2444" stroke-width="1" />
<line x1="120.50" y1="272.50" x2="120.50" y2="274.50" stroke="#9a2444" stroke-width="1" />
<line x1="126.50" y1="272.50" x2="126.50" y2="274.50" stroke="#9a2444" stroke-width="1" />
<line x1="129.50" y1="272.50" x2="129.50" y2="274.50" stroke="#9a2444" stroke-width="1" />
<line x1="139.50" y1="274.50" x2="139.50" y2="276.50" stroke="#9a2444" stroke-width="1" />
<line x1="153.50" y1="276.50" x2="153.50" y2="278.50" stroke="#9a2444" stroke-width="1" />
<line x1="160.50" y1="276.50" x2="160.50" y2="278.50" stroke="#9a2444" stroke-width="1" />
<line x1="165.50" y1="276.50" x2="165.50" y2="278.50" stroke="#9a2444" stroke-width="1" />
<line x1="170.50" y1="276.50" x2="170.50" y2="278.50" stroke="#9a2444" stroke-width="1" />
<line x1="176.50" y1="277.50" x2="176.50" y2="279.50" stroke="#9a2444" stroke-width="1" />
<line x1="179.50" y1="277.50" x2="179.50" y2="279.50" stroke="#9a2444" stroke-width="1" />
<line x1="185.20" y1="238.50" x2="196.00" y2="238.50" stroke="#5a7090" stroke-width="1.0" />
<line x1="190.60" y1="237.30" x2="190.60" y2="238.50" stroke="#5a7090" stroke-width="0.7" />
<line x1="185.20" y1="250.30" x2="196.00" y2="250.30" stroke="#c85070" stroke-width="1.0" />
<line x1="190.60" y1="249.10" x2="190.60" y2="250.30" stroke="#c85070" stroke-width="0.7" />
<text x="198.80" y="241.10" font-size="7.2" fill="#2a2a2a" text-anchor="start" font-weight="normal" textLength="52.70" lengthAdjust="spacingAndGlyphs" stroke="#2a2a2a" stroke-width="0.12">Low V<tspan font-size="5.6" dy="0.9">γ</tspan><tspan dy="-0.9">9V</tspan><tspan font-size="6.2">δ</tspan>2 T-cells</text>
<text x="198.80" y="252.50" font-size="7.2" fill="#2a2a2a" text-anchor="start" font-weight="normal" textLength="54.20" lengthAdjust="spacingAndGlyphs" stroke="#2a2a2a" stroke-width="0.12">High V<tspan font-size="5.6" dy="0.9">γ</tspan><tspan dy="-0.9">9V</tspan><tspan font-size="6.2">δ</tspan>2 T-cells</text>
<line x1="307.60" y1="231.80" x2="307.60" y2="326.70" stroke="#262626" stroke-width="1.35" />
<line x1="307.00" y1="326.00" x2="444.80" y2="326.00" stroke="#262626" stroke-width="1.35" />
<line x1="304.40" y1="240.70" x2="307.60" y2="240.70" stroke="#262626" stroke-width="0.9" />
<text x="302.20" y="242.90" font-size="6.3" fill="#3c3c3c" text-anchor="end" font-weight="normal" >100</text>
<line x1="304.40" y1="283.40" x2="307.60" y2="283.40" stroke="#262626" stroke-width="0.9" />
<text x="302.20" y="285.60" font-size="6.3" fill="#3c3c3c" text-anchor="end" font-weight="normal" >50</text>
<line x1="304.40" y1="326.00" x2="307.60" y2="326.00" stroke="#262626" stroke-width="0.9" />
<text x="302.20" y="328.20" font-size="6.3" fill="#3c3c3c" text-anchor="end" font-weight="normal" >0</text>
<line x1="307.60" y1="326.00" x2="307.60" y2="328.90" stroke="#262626" stroke-width="0.9" />
<text x="307.60" y="337.60" font-size="6.3" fill="#3c3c3c" text-anchor="middle" font-weight="normal" >0</text>
<line x1="352.60" y1="326.00" x2="352.60" y2="328.90" stroke="#262626" stroke-width="0.9" />
<text x="352.60" y="337.60" font-size="6.3" fill="#3c3c3c" text-anchor="middle" font-weight="normal" >20</text>
<line x1="397.60" y1="326.00" x2="397.60" y2="328.90" stroke="#262626" stroke-width="0.9" />
<text x="397.60" y="337.60" font-size="6.3" fill="#3c3c3c" text-anchor="middle" font-weight="normal" >40</text>
<line x1="442.60" y1="326.00" x2="442.60" y2="328.90" stroke="#262626" stroke-width="0.9" />
<text x="442.60" y="337.60" font-size="6.3" fill="#3c3c3c" text-anchor="middle" font-weight="normal" >60</text>
<text x="346.30" y="349.20" font-size="8.7" fill="#222" text-anchor="start" font-weight="normal" textLength="59.90" lengthAdjust="spacingAndGlyphs" stroke="#222" stroke-width="0.22">Time from CR (months)</text>
<text x="285.70" y="278.90" font-size="7.8" fill="#2e2e2e" text-anchor="middle" font-weight="normal" textLength="16.60" lengthAdjust="spacingAndGlyphs" transform="rotate(-90 285.70 278.90)" stroke="#2e2e2e" stroke-width="0.15">% RFS</text>
<polyline points="307.50,240.50 311.50,240.50 312.50,240.50 312.50,241.50 312.50,242.50 313.50,242.50 313.50,243.50 314.50,243.50 314.50,245.50 315.50,245.50 315.50,246.50 316.50,246.50 316.50,247.50 317.50,247.50 317.50,248.50 318.50,248.50 318.50,249.50 319.50,249.50 319.50,250.50 319.50,251.50 320.50,251.50 320.50,253.50 321.50,253.50 321.50,254.50 322.50,254.50 322.50,255.50 323.50,255.50 323.50,256.50 323.50,257.50 324.50,257.50 324.50,259.50 325.50,259.50 325.50,260.50 329.50,260.50 329.50,261.50 332.50,261.50 332.50,262.50 335.50,262.50 335.50,263.50 336.50,263.50 336.50,264.50 338.50,264.50 338.50,266.50 339.50,266.50 339.50,267.50 340.50,267.50 340.50,268.50 348.50,268.50 348.50,269.50 349.50,269.50 349.50,270.50 351.50,270.50 351.50,272.50 352.50,272.50 352.50,273.50 354.50,273.50 354.50,274.50 358.50,274.50 358.50,275.50 364.50,275.50 364.50,277.50 422.50,277.50 423.50,277.50 423.50,278.50 442.50,278.50" fill="none" stroke="#bf2d52" stroke-width="1.1" stroke-linejoin="round" stroke-linecap="round" />
<polyline points="307.50,240.50 311.50,240.50 312.50,240.50 312.50,241.50 314.50,241.50 314.50,243.50 315.50,243.50 315.50,244.50 320.50,244.50 321.50,244.50 321.50,245.50 322.50,245.50 322.50,246.50 322.50,248.50 323.50,248.50 323.50,249.50 324.50,249.50 324.50,250.50 324.50,252.50 325.50,252.50 325.50,253.50 326.50,253.50 326.50,254.50 326.50,255.50 326.50,257.50 327.50,257.50 327.50,258.50 327.50,259.50 328.50,259.50 328.50,260.50 328.50,261.50 328.50,263.50 329.50,263.50 329.50,264.50 330.50,264.50 330.50,265.50 330.50,266.50 331.50,266.50 331.50,267.50 331.50,269.50 332.50,269.50 332.50,270.50 332.50,271.50 333.50,271.50 333.50,272.50 334.50,272.50 334.50,274.50 336.50,274.50 336.50,275.50 337.50,275.50 337.50,276.50 339.50,276.50 339.50,277.50 340.50,277.50 340.50,279.50 341.50,279.50 341.50,280.50 342.50,280.50 342.50,281.50 343.50,281.50 343.50,282.50 344.50,282.50 344.50,283.50 346.50,283.50 346.50,284.50 347.50,284.50 347.50,286.50 349.50,286.50 349.50,287.50 351.50,287.50 351.50,288.50 353.50,288.50 353.50,290.50 356.50,290.50 356.50,291.50 359.50,291.50 359.50,292.50 369.50,292.50 370.50,292.50 370.50,293.50 371.50,293.50 371.50,294.50 374.50,294.50 374.50,295.50 397.50,295.50 398.50,295.50 398.50,296.50 400.50,296.50 400.50,297.50 401.50,297.50 401.50,298.50 442.50,298.50" fill="none" stroke="#3d5673" stroke-width="1.1" stroke-linejoin="round" stroke-linecap="round" />
<line x1="381.50" y1="293.50" x2="381.50" y2="295.50" stroke="#34465e" stroke-width="1" />
<line x1="388.50" y1="293.50" x2="388.50" y2="295.50" stroke="#34465e" stroke-width="1" />
<line x1="406.50" y1="296.50" x2="406.50" y2="298.50" stroke="#34465e" stroke-width="1" />
<line x1="412.50" y1="296.50" x2="412.50" y2="298.50" stroke="#34465e" stroke-width="1" />
<line x1="415.50" y1="296.50" x2="415.50" y2="298.50" stroke="#34465e" stroke-width="1" />
<line x1="420.50" y1="296.50" x2="420.50" y2="298.50" stroke="#34465e" stroke-width="1" />
<line x1="430.50" y1="296.50" x2="430.50" y2="298.50" stroke="#34465e" stroke-width="1" />
<line x1="437.50" y1="296.50" x2="437.50" y2="298.50" stroke="#34465e" stroke-width="1" />
<line x1="368.50" y1="275.50" x2="368.50" y2="277.50" stroke="#9a2444" stroke-width="1" />
<line x1="372.50" y1="275.50" x2="372.50" y2="277.50" stroke="#9a2444" stroke-width="1" />
<line x1="375.50" y1="275.50" x2="375.50" y2="277.50" stroke="#9a2444" stroke-width="1" />
<line x1="379.50" y1="275.50" x2="379.50" y2="277.50" stroke="#9a2444" stroke-width="1" />
<line x1="383.50" y1="275.50" x2="383.50" y2="277.50" stroke="#9a2444" stroke-width="1" />
<line x1="387.50" y1="275.50" x2="387.50" y2="277.50" stroke="#9a2444" stroke-width="1" />
<line x1="390.50" y1="275.50" x2="390.50" y2="277.50" stroke="#9a2444" stroke-width="1" />
<line x1="392.50" y1="275.50" x2="392.50" y2="277.50" stroke="#9a2444" stroke-width="1" />
<line x1="395.50" y1="275.50" x2="395.50" y2="277.50" stroke="#9a2444" stroke-width="1" />
<line x1="397.50" y1="275.50" x2="397.50" y2="277.50" stroke="#9a2444" stroke-width="1" />
<line x1="405.50" y1="275.50" x2="405.50" y2="277.50" stroke="#9a2444" stroke-width="1" />
<line x1="427.50" y1="276.50" x2="427.50" y2="278.50" stroke="#9a2444" stroke-width="1" />
<line x1="431.50" y1="276.50" x2="431.50" y2="278.50" stroke="#9a2444" stroke-width="1" />
<line x1="435.50" y1="276.50" x2="435.50" y2="278.50" stroke="#9a2444" stroke-width="1" />
<line x1="439.50" y1="276.50" x2="439.50" y2="278.50" stroke="#9a2444" stroke-width="1" />
<line x1="446.20" y1="238.50" x2="457.00" y2="238.50" stroke="#5a7090" stroke-width="1.0" />
<line x1="451.60" y1="237.30" x2="451.60" y2="238.50" stroke="#5a7090" stroke-width="0.7" />
<line x1="446.20" y1="250.30" x2="457.00" y2="250.30" stroke="#c85070" stroke-width="1.0" />
<line x1="451.60" y1="249.10" x2="451.60" y2="250.30" stroke="#c85070" stroke-width="0.7" />
<text x="459.80" y="241.10" font-size="7.2" fill="#2a2a2a" text-anchor="start" font-weight="normal" textLength="52.70" lengthAdjust="spacingAndGlyphs" stroke="#2a2a2a" stroke-width="0.12">Low V<tspan font-size="5.6" dy="0.9">γ</tspan><tspan dy="-0.9">9V</tspan><tspan font-size="6.2">δ</tspan>2 T-cells</text>
<text x="459.80" y="252.50" font-size="7.2" fill="#2a2a2a" text-anchor="start" font-weight="normal" textLength="54.20" lengthAdjust="spacingAndGlyphs" stroke="#2a2a2a" stroke-width="0.12">High V<tspan font-size="5.6" dy="0.9">γ</tspan><tspan dy="-0.9">9V</tspan><tspan font-size="6.2">δ</tspan>2 T-cells</text>
</svg><div id="b"></div></div></body></html>
